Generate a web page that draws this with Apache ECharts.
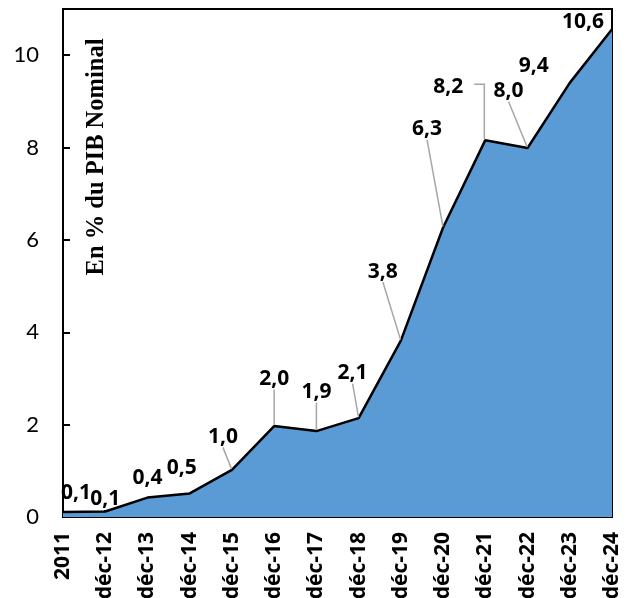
<!DOCTYPE html>
<html>
<head>
<meta charset="utf-8">
<script src="https://cdn.jsdelivr.net/npm/echarts@6/dist/echarts.min.js"></script>
<style>
  html, body { margin: 0; padding: 0; background: #ffffff; }
  #chart { width: 633px; height: 598px; }
</style>
</head>
<body>
<div id="chart"></div>
<script>
// Ratio to nominal GDP, year-end observations
const categories = ['2011', 'déc-12', 'déc-13', 'déc-14', 'déc-15', 'déc-16', 'déc-17',
                    'déc-18', 'déc-19', 'déc-20', 'déc-21', 'déc-22', 'déc-23', 'déc-24'];
const ratioValues = [0.11, 0.12, 0.42, 0.51, 1.02, 1.97, 1.86, 2.14, 3.82, 6.27, 8.16, 7.99, 9.40, 10.56];
const yMin = 0, yMax = 11, yStep = 2;
const axisTitle = 'En % du PIB Nominal';

// Where each value label sits relative to its point, and how it is tied back to it
const labelShift = [[13, -19], [0, -12], [0, -20], [-8, -25], [-9, -33], [0, -47], [0, -39],
                    [-6, -45], [-18, -69], [-16, -98], [-37, -53], [-19, -57], [-36, -17], [-29, -7]];
const guideKind = ['none', 'none', 'none', 'none', 'auto', 'auto', 'auto',
                   'auto', 'auto', 'auto', 'elbow', 'auto', 'none', 'none'];

const GUIDE_COLOR = '#A6A6A6';
const fmt = v => v.toFixed(1).replace('.', ',');
const LABEL_FONT = '"Open Sans", Lato, sans-serif';

const chart = echarts.init(document.getElementById('chart'), null, { renderer: 'canvas' });

chart.setOption({
  animation: false,
  backgroundColor: '#ffffff',
  grid: {
    left: 63, right: 21, top: 9, bottom: 81,
    containLabel: false,
    outerBoundsMode: 'none',
    show: true, borderColor: '#000000', borderWidth: 2, backgroundColor: 'transparent'
  },
  xAxis: {
    type: 'category',
    data: categories,
    boundaryGap: false,
    axisLine: { lineStyle: { color: '#000000', width: 2 } },
    axisTick: { show: true, inside: true, length: 7, lineStyle: { color: '#000000', width: 2 } },
    axisLabel: {
      rotate: 90, margin: 15, interval: 0,
      color: '#000000', fontFamily: LABEL_FONT, fontWeight: 'bold', fontSize: 21
    },
    splitLine: { show: false }
  },
  yAxis: {
    type: 'value',
    min: yMin, max: yMax, interval: yStep,
    axisLine: { show: true, lineStyle: { color: '#000000', width: 2 } },
    axisTick: { show: true, inside: true, length: 7, lineStyle: { color: '#000000', width: 2 } },
    axisLabel: { margin: 24, color: '#000000', fontFamily: 'Lato', fontSize: 22, showMaxLabel: false },
    splitLine: { show: false }
  },
  series: [{
    type: 'line',
    data: ratioValues.map((v, i) => ({ value: v, labelLine: { show: guideKind[i] === 'auto' } })),
    showSymbol: true,
    symbol: 'circle',
    symbolSize: 2,
    itemStyle: { color: 'rgba(0,0,0,0)', borderWidth: 0 },
    lineStyle: { color: '#000000', width: 2.5 },
    areaStyle: { color: '#5A9AD5', opacity: 1 },
    label: {
      show: true,
      position: 'inside',
      color: '#000000',
      fontFamily: LABEL_FONT,
      fontWeight: 'bold',
      fontSize: 21,
      formatter: p => fmt(p.value)
    },
    labelLine: { show: true, lineStyle: { color: GUIDE_COLOR, width: 1.5 } },
    labelLayout: function (p) {
      const s = labelShift[p.dataIndex];
      return {
        x: p.rect.x + p.rect.width / 2 + s[0],
        y: p.rect.y + p.rect.height / 2 + s[1],
        align: 'center',
        verticalAlign: 'middle'
      };
    }
  }]
});

// Axis title and the right-angled guide lines, placed from the drawn scale
const graphics = [{
  type: 'text',
  x: 97, y: 157,
  rotation: Math.PI / 2,
  style: {
    text: axisTitle,
    font: 'bold 24.5px "Liberation Serif", "Times New Roman", serif',
    fill: '#000000',
    textAlign: 'center',
    textVerticalAlign: 'middle'
  }
}];
guideKind.forEach((kind, i) => {
  if (kind !== 'elbow') return;
  const pt = chart.convertToPixel({ seriesIndex: 0 }, [i, ratioValues[i]]);
  const s = labelShift[i];
  const yRow = pt[1] + s[1] - 3;
  graphics.push({
    type: 'polyline',
    z: 10,
    shape: { points: [[pt[0] + s[0] + 26, yRow], [pt[0] - 1, yRow], [pt[0] - 1, pt[1] - 1]] },
    style: { stroke: GUIDE_COLOR, lineWidth: 1.5, fill: null }
  });
});
chart.setOption({ graphic: graphics });
</script>
</body>
</html>
